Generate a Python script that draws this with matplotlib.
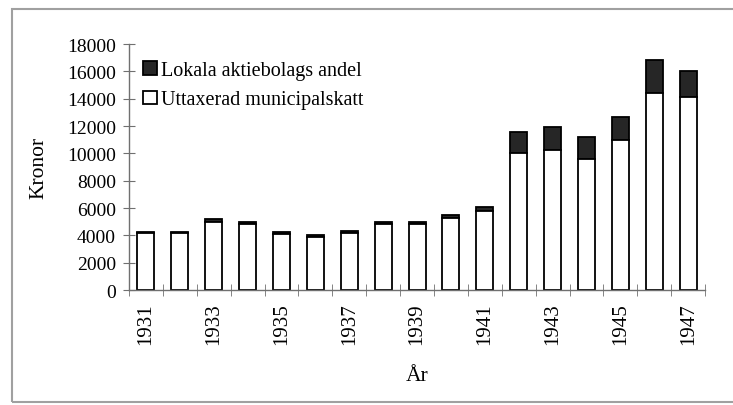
import numpy as np
import matplotlib.pyplot as plt
from matplotlib.patches import Rectangle

plt.rcParams['font.family'] = ['Liberation Serif', 'DejaVu Serif']

years = list(range(1931, 1948))
skatt = [4150, 4150, 5000, 4850, 4100, 3900, 4200, 4800, 4800, 5300, 5800,
         10000, 10250, 9600, 11000, 14450, 14150]
andel = [100, 100, 200, 150, 150, 100, 150, 150, 150, 200, 300,
         1550, 1650, 1600, 1700, 2400, 1900]
yticks = np.arange(0, 18001, 2000)

fig = plt.figure(figsize=(7.33, 4.06), dpi=100)
ax = fig.add_axes([0.176, 0.283, 0.786, 0.606])

x = np.arange(len(years))
b2 = ax.bar(x, andel, 0.5, bottom=skatt, color='#262626', edgecolor='black',
            linewidth=1.3, label='Lokala aktiebolags andel')
b1 = ax.bar(x, skatt, 0.5, color='white', edgecolor='black', linewidth=1.3,
            label='Uttaxerad municipalskatt')

ax.set_xlim(-0.5, len(years) - 0.5)
ax.set_ylim(0, 18000)

for s in ['top', 'right']:
    ax.spines[s].set_visible(False)
for s in ['left', 'bottom']:
    ax.spines[s].set_color('#707070')
    ax.spines[s].set_linewidth(1.0)

ax.set_yticks(yticks)
ax.set_yticklabels([str(v) for v in yticks], fontsize=14)
ax.tick_params(axis='y', direction='inout', length=9, color='#707070', pad=5)

ax.set_xticks(x[::2])
ax.set_xticklabels([str(y) for y in years[::2]], rotation=90, fontsize=15)
ax.set_xticks(np.arange(-0.5, len(years)), minor=True)
ax.tick_params(axis='x', which='major', length=0, pad=9)
ax.tick_params(axis='x', which='minor', direction='inout', length=9, color='#707070')

ax.set_ylabel('Kronor', fontsize=15.5)
ax.yaxis.set_label_coords(-0.14, 0.5)
ax.set_xlabel('År', fontsize=15.5)
ax.xaxis.set_label_coords(0.5, -0.31)

ax.legend(handles=[b2, b1], loc='upper left', bbox_to_anchor=(0.025, 0.93),
          frameon=False, fontsize=14.5, handlelength=0.65, handleheight=0.65,
          handletextpad=0.2, labelspacing=0.5, borderpad=0, borderaxespad=0)

fig.patches.append(Rectangle((0.016, 0.007), 1.2, 0.968, transform=fig.transFigure,
                             fill=False, edgecolor='#a0a0a0', linewidth=1.5))

fig.savefig('out.png', dpi=100)
